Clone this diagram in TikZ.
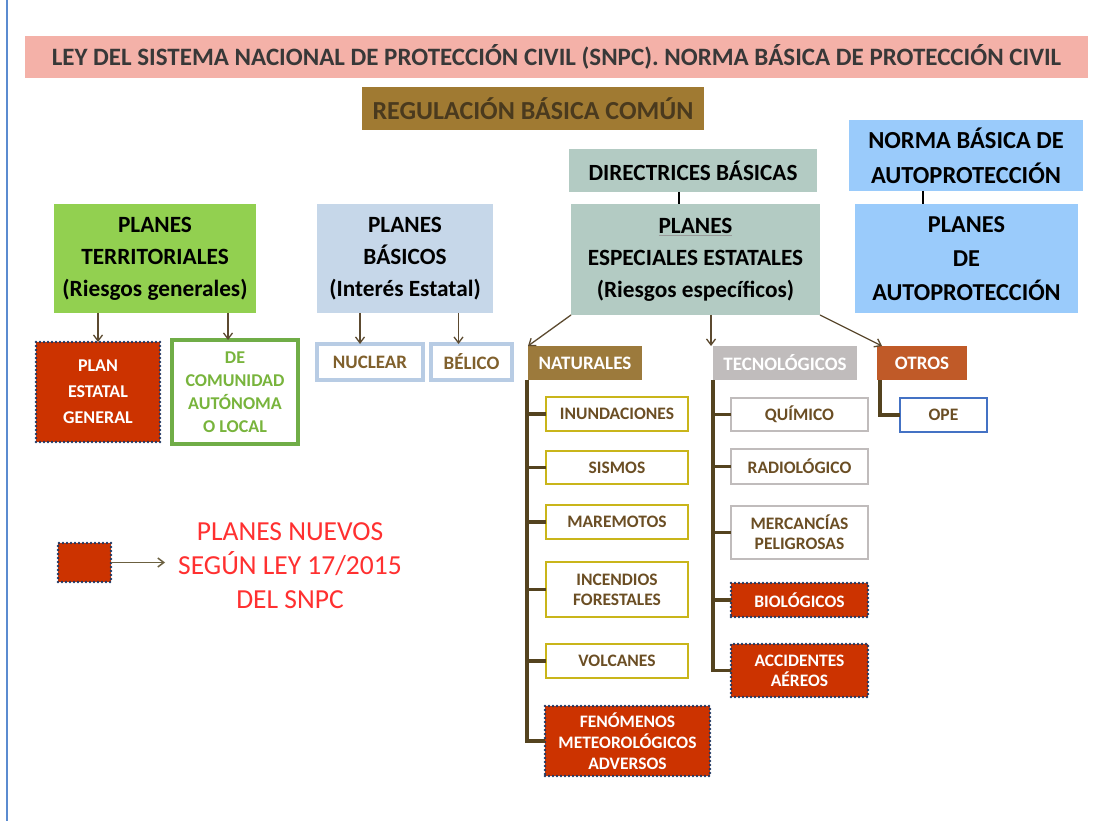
\documentclass[tikz,border=0pt]{standalone}
\usepackage{fontspec}
\setmainfont{Carlito}
\usetikzlibrary{arrows.meta}
\definecolor{cPink}{HTML}{F4B1A8}
\definecolor{cTitle}{HTML}{383838}
\definecolor{cReg}{HTML}{A07A32}
\definecolor{cRegT}{HTML}{4A3A1E}
\definecolor{cSage}{HTML}{B3CBC3}
\definecolor{cSky}{HTML}{9ACBFB}
\definecolor{cGreen}{HTML}{92D050}
\definecolor{cPb}{HTML}{C6D7E9}
\definecolor{cPbB}{HTML}{B8CCE4}
\definecolor{cRed}{HTML}{CC3300}
\definecolor{cNavy}{HTML}{1F3864}
\definecolor{cGreenB}{HTML}{70AD47}
\definecolor{cGreenT}{HTML}{78B43C}
\definecolor{cTxt}{HTML}{6B4E24}
\definecolor{cTxt2}{HTML}{80602C}
\definecolor{cYel}{HTML}{C9B51A}
\definecolor{cGry}{HTML}{C0BCBC}
\definecolor{cNat}{HTML}{9C7A3C}
\definecolor{cTec}{HTML}{C0BCBC}
\definecolor{cOtr}{HTML}{C05A28}
\definecolor{cBlueB}{HTML}{4472C4}
\definecolor{cTree}{HTML}{54431F}
\definecolor{cArr}{HTML}{5C4A30}
\definecolor{cArrL}{HTML}{6B6040}
\definecolor{cLeg}{HTML}{FF3030}
\definecolor{cSide}{HTML}{5B8BD0}
\newcommand\bx[6]{\node[box,#6,minimum width={(#4-#2)*1pt},minimum height={(#5-#3)*1pt}] (#1) at ({(#2+#4)/2},{(#3+#5)/2})}
\begin{document}
\begin{tikzpicture}[x=1pt,y=-1pt,
 box/.style={inner sep=0pt,outer sep=0pt,align=center,text=black},
 big/.style={font=\bfseries\fontsize{23.3}{32}\selectfont},
 small/.style={font=\bfseries\fontsize{17.5}{20}\selectfont},
 mid/.style={font=\bfseries\fontsize{19}{22}\selectfont},
 newplan/.style={fill=cRed,draw=cNavy,line width=2.6pt,dash pattern=on 0pt off 4pt,line cap=round,text=white},
 yel/.style={fill=white,draw=cYel,line width=2.8pt,text=cTxt,small},
 gry/.style={fill=white,draw=cGry,line width=2.8pt,text=cTxt,small},
 arr/.style={draw=cArr,line width=1.3pt,-{Straight Barb[length=6pt,width=9pt]}},
 tree/.style={draw=cTree,line width=3.2pt},
 link/.style={draw=black,line width=2.5pt}]
\useasboundingbox (0,0) rectangle (1112,821);
\fill[white] (0,0) rectangle (1112,821);
\draw[cSide,line width=1.5pt] (7,0) -- (7,821);
% top boxes
\bx{ley}{25}{36}{1088}{78}{fill=cPink,text=cTitle,font=\bfseries\fontsize{25}{28}\selectfont} {LEY DEL SISTEMA NACIONAL DE PROTECCIÓN CIVIL (SNPC). NORMA BÁSICA DE PROTECCIÓN CIVIL};
\bx{reg}{362}{87}{704}{130}{fill=cReg,text=cRegT,font=\bfseries\fontsize{26}{30}\selectfont} {REGULACIÓN BÁSICA COMÚN};
\bx{dir}{569}{149}{817}{192}{fill=cSage,font=\bfseries\fontsize{23.2}{26}\selectfont} {DIRECTRICES BÁSICAS};
\bx{nba}{849}{120}{1083}{191}{fill=cSky,font=\bfseries\fontsize{24.5}{35}\selectfont} {NORMA BÁSICA DE\\AUTOPROTECCIÓN};
\bx{ter}{54}{204}{256}{313}{fill=cGreen,big} {PLANES\\TERRITORIALES\\(Riesgos generales)};
\bx{bas}{317}{204}{493}{313}{fill=cPb,big} {PLANES\\BÁSICOS\\(Interés Estatal)};
\bx{pee}{571}{204}{820}{315}{fill=cSage,big} {\textcolor{black!40}{\underline{\textcolor{black}{PLANES}}}\\ESPECIALES ESTATALES\\(Riesgos específicos)};
\bx{pau}{855}{204}{1078}{313}{fill=cSky,font=\bfseries\fontsize{24.3}{34}\selectfont} {PLANES\\DE\\AUTOPROTECCIÓN};
% second level
\bx{peg}{36}{342}{160}{442}{newplan,font=\bfseries\fontsize{18}{26}\selectfont} {PLAN\\ESTATAL\\GENERAL};
\bx{com}{172}{340}{298}{444}{fill=white,draw=cGreenB,line width=3.5pt,text=cGreenT,font=\bfseries\fontsize{18}{23}\selectfont} {DE\\COMUNIDAD\\AUTÓNOMA\\O LOCAL};
\bx{nuc}{317}{344}{423}{380}{fill=white,draw=cPbB,line width=3.5pt,text=cTxt2,mid} {NUCLEAR};
\bx{bel}{431}{344}{512}{380}{fill=white,draw=cPbB,line width=3.5pt,text=cTxt2,mid} {BÉLICO};
\bx{nat}{528}{346}{642}{380}{fill=cNat,text=white,mid} {NATURALES};
\bx{tec}{713}{346}{857}{380}{fill=cTec,text=white,mid} {TECNOLÓGICOS};
\bx{otr}{877}{346}{967}{380}{fill=cOtr,text=white,mid} {OTROS};
\bx{ope}{900}{398}{987}{432}{fill=white,draw=cBlueB,line width=2.5pt,text=cTxt,small} {OPE};
% naturales
\bx{inu}{546}{397}{688}{431}{yel} {INUNDACIONES};
\bx{sis}{546}{451}{688}{484}{yel} {SISMOS};
\bx{mar}{546}{505}{688}{539}{yel} {MAREMOTOS};
\bx{inc}{546}{562}{688}{617}{yel} {INCENDIOS\\FORESTALES};
\bx{vol}{546}{644}{688}{678}{yel} {VOLCANES};
\bx{fen}{545}{706}{710}{776}{newplan,font=\bfseries\fontsize{17.5}{21}\selectfont} {FENÓMENOS\\METEOROLÓGICOS\\ADVERSOS};
% tecnologicos
\bx{qui}{731}{398}{868}{431}{gry} {QUÍMICO};
\bx{rad}{731}{449}{868}{484}{gry} {RADIOLÓGICO};
\bx{mer}{731}{506}{868}{559}{gry} {MERCANCÍAS\\PELIGROSAS};
\bx{bio}{731}{583}{868}{617}{newplan,small} {BIOLÓGICOS};
\bx{acc}{731}{644}{868}{697}{newplan,small} {ACCIDENTES\\AÉREOS};
% legend
\bx{leg}{58}{543}{111}{582}{newplan} {};
\node[text=cLeg,font=\fontsize{27.5}{34}\selectfont,align=center,inner sep=13pt] (legt) at (290,566) {PLANES NUEVOS\\SEGÚN LEY 17/2015\\DEL SNPC};
% links
\draw[link] ([xshift=-14pt]dir.south) -- ([xshift=-14pt]dir.south |- pee.north);
\draw[link] ([xshift=-43pt]nba.south) -- ([xshift=-43pt]nba.south |- pau.north);
\draw[arr] (ter.south -| peg.north) -- (peg.north);
\draw[arr] ([xshift=-7pt]com.north |- ter.south) -- ([xshift=-7pt]com.north);
\draw[arr] ([xshift=-10pt]nuc.north |- bas.south) -- ([xshift=-10pt]nuc.north);
\draw[arr] ([xshift=-13pt]bel.north |- bas.south) -- ([xshift=-13pt]bel.north);
\draw[arr] (pee.south west) -- (nat.north west);
\draw[arr] ([xshift=-2pt]pee.south -| tec.north west) -- ([xshift=-2pt]tec.north west);
\draw[arr] (pee.south east) -- ([xshift=5pt]otr.north west);
% trees
\draw[tree] ([xshift=-1pt]nat.south west) |- (fen.west);
\foreach \n in {inu,sis,mar,inc,vol} \draw[tree] ([xshift=-1pt]nat.south west |- \n.west) -- (\n.west);
\draw[tree] (tec.south west) |- (acc.west);
\foreach \n in {qui,rad,mer,bio} \draw[tree] (tec.south west |- \n.west) -- (\n.west);
\draw[tree] ([xshift=3pt]otr.south west) |- (ope.west);
\draw[arr,draw=cArrL,line width=1.5pt] (leg.east) -- (leg.east -| legt.west);
\end{tikzpicture}
\end{document}
